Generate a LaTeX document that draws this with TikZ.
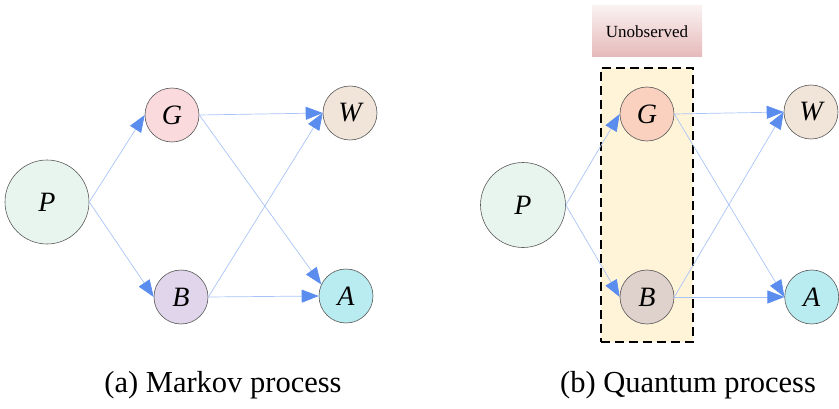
\documentclass[tikz,border=0pt]{standalone}
\usepackage{fontspec}
\setmainfont{Liberation Serif}
\usepackage{tikz}
\usetikzlibrary{positioning}
\usetikzlibrary{arrows.meta}

\definecolor{PFill}{HTML}{E8F5EF}
\definecolor{GFillA}{HTML}{FADADD}
\definecolor{GFillB}{HTML}{F9D1BE}
\definecolor{WFill}{HTML}{F1E5DA}
\definecolor{BFillA}{HTML}{E0D5EA}
\definecolor{BFillB}{HTML}{DFD1CC}
\definecolor{AFill}{HTML}{B9ECF0}
\definecolor{BoxFill}{HTML}{FFF3D8}
\definecolor{TagTop}{HTML}{FAF1F1}
\definecolor{TagBottom}{HTML}{E6B9B9}
\definecolor{LineBlue}{HTML}{A9C5F7}
\definecolor{HeadBlue}{HTML}{5B8DEF}

\tikzset{
	state/.style={circle, draw=black!65, line width=0.6pt, minimum size=54pt, inner sep=0pt,
		font=\fontsize{28}{30}\selectfont\itshape},
	bigstate/.style={state, minimum size=84pt},
	flow/.style={draw=LineBlue, line width=0.7pt, -{Triangle[length=17pt,width=13pt,color=HeadBlue]}},
	caption/.style={anchor=base, font=\fontsize{30.5}{33}\selectfont},
}

\begin{document}
\begin{tikzpicture}[x=1pt,y=1pt]
		
		% ---------------------
		% Proper size --- Bounding box
		\useasboundingbox (0,0) rectangle (839,408);
		
		% ---------------------
		% (a) Markov process
		\node[bigstate, fill=PFill] (Pa) at (47,206) {P};
		\node[state, fill=GFillA] (Ga) at (172,293) {G};
		\node[state, fill=WFill] (Wa) at (350,295) {W};
		\node[state, fill=BFillA] (Ba) at (181,111) {B};
		\node[state, fill=AFill] (Aa) at (346,112) {A};
		
		\node[caption] (CapA) at (223,16) {(a) Markov process};
		
		\draw[flow] (Pa.east) -- (Ga.west);
		\draw[flow] (Pa.east) -- (Ba.west);
		\draw[flow] (Ga.east) -- (Wa.west);
		\draw[flow] (Ga.east) -- (Aa.155);
		\draw[flow] (Ba.east) -- (Wa.west);
		\draw[flow] (Ba.east) -- (Aa.west);
		
		% ---------------------
		% (b) Quantum process
		\node[draw, dashed, dash pattern=on 9pt off 5pt, line width=2pt, fill=BoxFill,
			minimum width=92pt, minimum height=274pt] (Hidden) at (647,203) {};
		\node[top color=TagTop, bottom color=TagBottom, minimum width=110pt, minimum height=51pt,
			font=\fontsize{17}{19}\selectfont] (Tag) at (647,376.5) {Unobserved};
		
		\node[bigstate, fill=PFill, minimum size=85pt] (Pb) at (523,203) {P};
		\node[state, fill=GFillB] (Gb) at (647,294) {G};
		\node[state, fill=WFill] (Wb) at (811,296) {W};
		\node[state, fill=BFillB] (Bb) at (647,111) {B};
		\node[state, fill=AFill] (Ab) at (811.7,111) {A};
		
		\node[caption] (CapB) at (688,16) {(b) Quantum process};
		
		\draw[flow] (Pb.east) -- (Gb.west);
		\draw[flow] (Pb.east) -- (Bb.west);
		\draw[flow] (Gb.east) -- (Wb.west);
		\draw[flow] (Gb.east) -- (Ab.west);
		\draw[flow] (Bb.east) -- (Wb.west);
		\draw[flow] (Bb.east) -- (Ab.west);
		
\end{tikzpicture}
\end{document}
